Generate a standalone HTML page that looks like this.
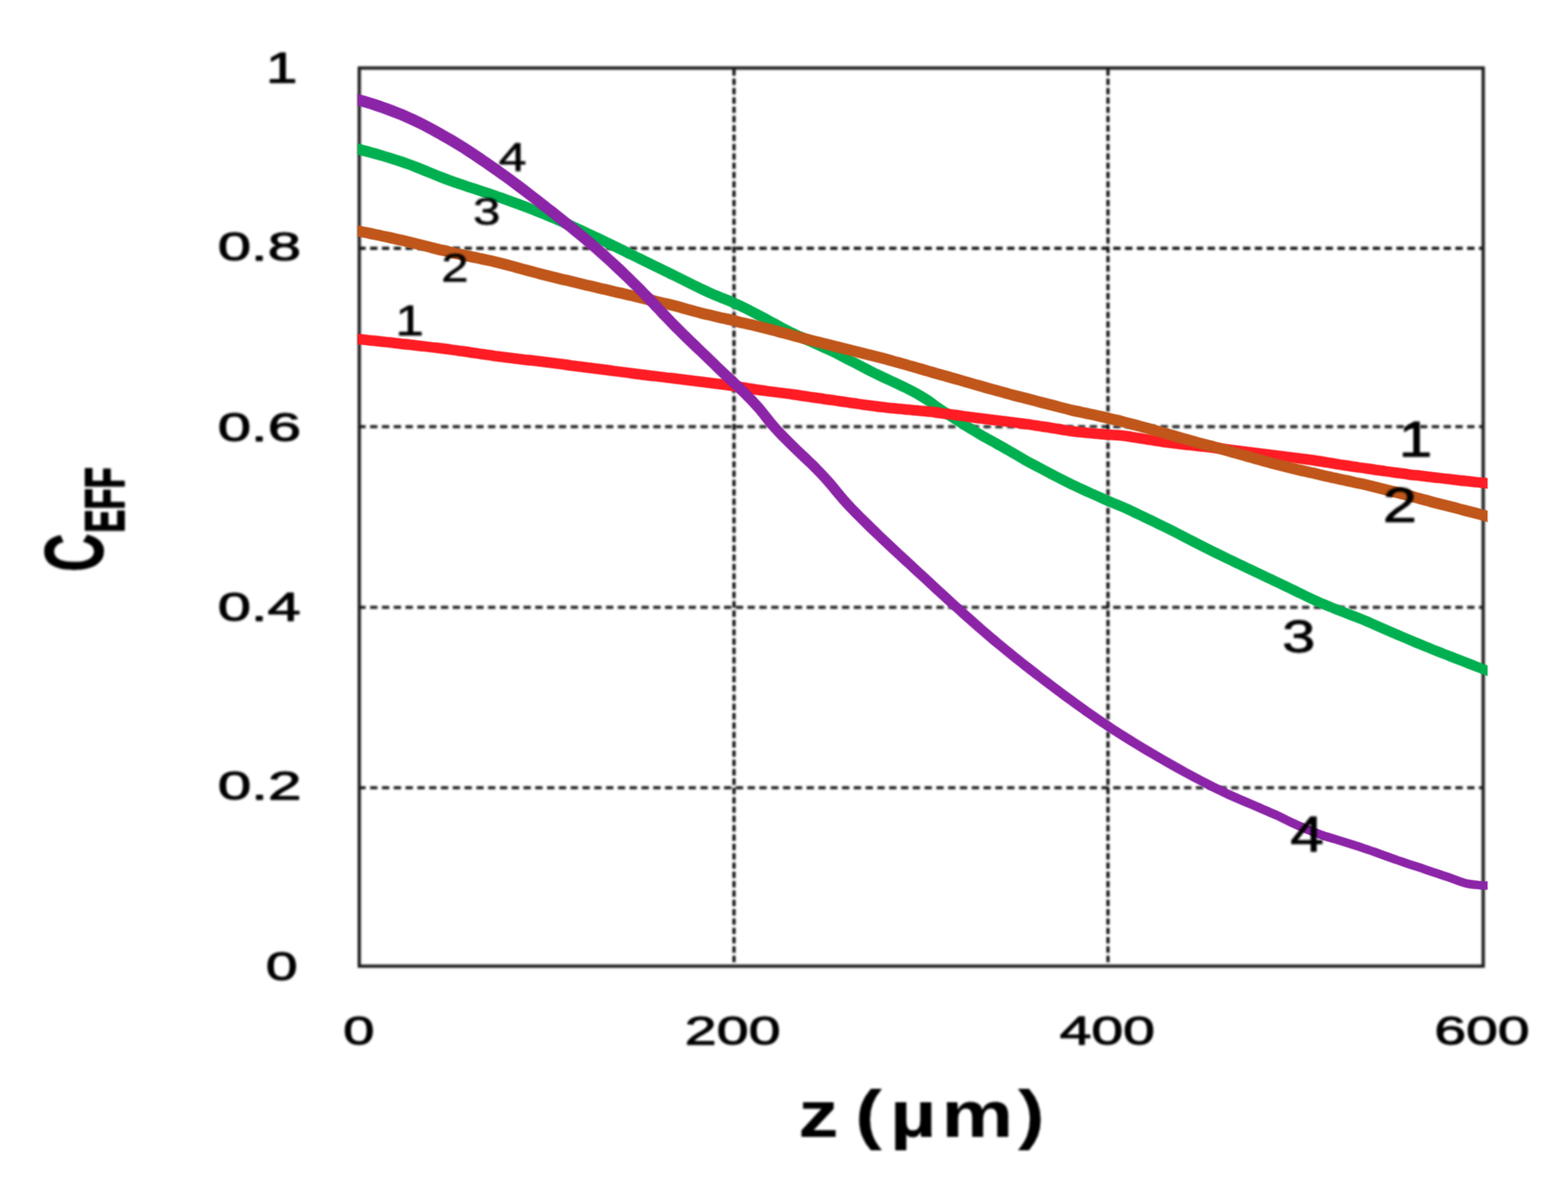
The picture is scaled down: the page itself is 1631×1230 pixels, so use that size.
<!DOCTYPE html>
<html lang="en">
<head>
<meta charset="utf-8">
<title>C_EFF vs z</title>
<style>
html,body{margin:0;padding:0;background:#fff;}
body{width:1631px;height:1230px;overflow:hidden;font-family:"Liberation Sans",sans-serif;}
svg{display:block;}
.soft{filter:blur(0.9px);}
</style>
</head>
<body>
<svg xmlns="http://www.w3.org/2000/svg" width="1631" height="1230" viewBox="0 0 1631 1230">
<defs><clipPath id="cc"><rect x="371.9" y="0" width="1175.5" height="1230"/></clipPath></defs>
<rect x="0" y="0" width="1631" height="1230" fill="#ffffff"/>
<g class="soft">
<g stroke="#101010" stroke-width="3.1" stroke-dasharray="7.6 4.67" stroke-dashoffset="0.95" fill="none">
<line x1="373.7" y1="258.4" x2="1542.8" y2="258.4"/>
<line x1="373.7" y1="444.0" x2="1542.8" y2="444.0"/>
<line x1="373.7" y1="632.0" x2="1542.8" y2="632.0"/>
<line x1="373.7" y1="819.7" x2="1542.8" y2="819.7"/>
<line x1="763.5" y1="70.8" x2="763.5" y2="1005.4" stroke-width="3.3" stroke-dasharray="6.7 3.01" stroke-dashoffset="8.45"/>
<line x1="1152.5" y1="70.8" x2="1152.5" y2="1005.4" stroke-width="3.3" stroke-dasharray="6.7 3.01" stroke-dashoffset="8.45"/>
</g>
<rect x="373.7" y="70.8" width="1169.1" height="934.6" fill="none" stroke="#1c1c1c" stroke-width="3.4"/>
</g>
<g clip-path="url(#cc)" stroke-width="1.5" stroke-opacity="0.5" stroke-linejoin="round">
<path d="M367.2,148.6 L371.2,149.6 L375.3,150.6 L379.3,151.6 L383.3,152.6 L387.4,153.7 L391.4,154.8 L395.4,156.0 L399.5,157.2 L403.5,158.4 L407.5,159.6 L411.6,160.9 L415.6,162.2 L419.6,163.5 L423.7,164.9 L427.8,166.4 L431.9,167.9 L435.9,169.5 L439.9,171.1 L444.0,172.8 L448.0,174.4 L452.0,176.1 L455.9,177.7 L459.9,179.3 L463.9,180.8 L467.8,182.3 L471.7,183.7 L475.7,185.1 L479.7,186.5 L483.6,187.8 L487.6,189.2 L491.6,190.5 L495.6,191.8 L499.6,193.1 L503.6,194.4 L507.6,195.7 L511.7,197.1 L515.7,198.5 L519.7,199.9 L523.7,201.3 L527.7,202.8 L531.8,204.2 L535.8,205.7 L539.8,207.1 L543.8,208.6 L547.8,210.1 L551.8,211.7 L555.9,213.2 L559.9,214.8 L563.9,216.4 L567.9,218.0 L572.0,219.7 L576.0,221.4 L580.0,223.1 L584.1,224.9 L588.1,226.7 L592.1,228.5 L596.1,230.3 L600.1,232.1 L604.2,234.0 L608.2,235.8 L612.2,237.7 L616.2,239.6 L620.2,241.4 L624.2,243.3 L628.2,245.2 L632.2,247.2 L636.2,249.1 L640.3,251.1 L644.3,253.0 L648.3,255.0 L652.3,257.0 L656.3,259.0 L660.3,260.9 L664.2,262.9 L668.2,264.8 L672.2,266.8 L676.2,268.7 L680.2,270.7 L684.2,272.7 L688.2,274.6 L692.2,276.6 L696.2,278.5 L700.2,280.5 L704.2,282.4 L708.3,284.4 L712.3,286.4 L716.3,288.4 L720.3,290.4 L724.3,292.4 L728.2,294.3 L732.2,296.3 L736.2,298.1 L740.1,299.9 L744.0,301.7 L747.9,303.3 L751.9,304.9 L755.9,306.5 L760.0,308.1 L764.0,309.9 L768.1,311.7 L772.2,313.6 L776.2,315.6 L780.3,317.6 L784.3,319.7 L788.4,321.8 L792.4,323.9 L796.4,326.0 L800.4,328.2 L804.4,330.4 L808.4,332.5 L812.4,334.7 L816.4,336.9 L820.4,339.0 L824.2,341.0 L828.2,342.8 L832.1,344.7 L836.1,346.5 L840.1,348.4 L844.1,350.2 L848.1,352.0 L852.1,353.8 L856.1,355.7 L860.1,357.5 L864.1,359.3 L868.2,361.1 L872.3,363.1 L876.4,365.3 L880.4,367.4 L884.4,369.5 L888.3,371.6 L892.3,373.7 L896.3,375.7 L900.3,377.8 L904.3,379.8 L908.3,381.9 L912.2,383.9 L916.2,385.8 L920.2,387.7 L924.1,389.5 L928.1,391.4 L932.1,393.3 L936.2,395.2 L940.2,397.1 L944.2,399.1 L948.3,401.1 L952.4,403.2 L956.5,405.4 L960.6,407.8 L964.7,410.3 L968.9,413.0 L973.0,416.0 L976.9,418.9 L980.9,421.7 L984.8,424.3 L988.8,426.9 L992.7,429.5 L996.7,432.1 L1000.7,434.6 L1004.7,437.1 L1008.7,439.6 L1012.7,442.1 L1016.6,444.6 L1020.6,447.0 L1024.5,449.2 L1028.4,451.4 L1032.4,453.6 L1036.4,455.8 L1040.5,458.1 L1044.5,460.3 L1048.5,462.6 L1052.5,464.9 L1056.5,467.2 L1060.5,469.6 L1064.6,471.9 L1068.5,474.3 L1072.4,476.5 L1076.3,478.5 L1080.3,480.6 L1084.3,482.7 L1088.3,484.9 L1092.3,487.0 L1096.3,489.1 L1100.3,491.2 L1104.3,493.2 L1108.3,495.2 L1112.2,497.2 L1116.2,499.2 L1120.2,501.1 L1124.1,503.0 L1128.1,504.8 L1132.1,506.6 L1136.0,508.4 L1140.0,510.2 L1144.0,512.0 L1148.0,513.7 L1152.0,515.5 L1156.0,517.2 L1159.9,518.9 L1163.9,520.5 L1167.9,522.2 L1172.0,523.9 L1176.1,525.8 L1180.1,527.7 L1184.1,529.6 L1188.1,531.6 L1192.2,533.5 L1196.2,535.4 L1200.2,537.3 L1204.2,539.3 L1208.2,541.2 L1212.2,543.2 L1216.2,545.1 L1220.2,547.1 L1224.3,549.2 L1228.3,551.3 L1232.3,553.3 L1236.3,555.4 L1240.3,557.5 L1244.3,559.5 L1248.3,561.6 L1252.2,563.6 L1256.2,565.6 L1260.2,567.6 L1264.2,569.6 L1268.2,571.5 L1272.2,573.5 L1276.2,575.4 L1280.2,577.4 L1284.2,579.3 L1288.1,581.2 L1292.1,583.1 L1296.1,585.0 L1300.1,586.9 L1304.1,588.8 L1308.1,590.7 L1312.1,592.6 L1316.1,594.5 L1320.1,596.4 L1324.1,598.3 L1328.1,600.2 L1332.1,602.1 L1336.1,604.0 L1340.2,606.0 L1344.2,607.9 L1348.2,609.8 L1352.2,611.8 L1356.2,613.7 L1360.1,615.7 L1364.1,617.6 L1368.1,619.5 L1372.0,621.3 L1375.9,623.0 L1379.9,624.6 L1383.9,626.3 L1387.8,627.9 L1391.8,629.5 L1395.8,631.1 L1399.8,632.6 L1403.8,634.2 L1407.8,635.7 L1411.8,637.3 L1415.8,638.8 L1419.8,640.4 L1424.0,642.1 L1428.0,643.9 L1432.0,645.7 L1436.0,647.5 L1440.0,649.2 L1444.0,651.0 L1448.0,652.7 L1452.0,654.4 L1455.9,656.1 L1459.9,657.9 L1463.9,659.6 L1467.9,661.3 L1471.9,662.9 L1475.9,664.6 L1479.9,666.3 L1483.9,667.9 L1487.9,669.5 L1491.8,671.2 L1495.8,672.8 L1499.8,674.3 L1503.8,675.9 L1507.8,677.5 L1511.8,679.0 L1515.8,680.6 L1519.8,682.1 L1523.8,683.7 L1527.8,685.3 L1531.8,686.8 L1535.8,688.4 L1539.8,689.9 L1543.7,691.4 L1547.6,692.9 L1551.5,694.2 L1555.5,695.5 L1552.5,704.8 L1548.5,703.5 L1544.4,702.1 L1540.3,700.6 L1536.2,699.1 L1532.2,697.5 L1528.2,696.0 L1524.2,694.4 L1520.2,692.8 L1516.2,691.2 L1512.2,689.7 L1508.2,688.2 L1504.2,686.6 L1500.2,685.1 L1496.2,683.5 L1492.2,681.9 L1488.2,680.3 L1484.1,678.6 L1480.1,677.0 L1476.1,675.3 L1472.1,673.7 L1468.1,672.0 L1464.1,670.3 L1460.1,668.6 L1456.1,666.9 L1452.1,665.2 L1448.0,663.5 L1444.0,661.7 L1440.0,660.0 L1436.0,658.2 L1432.0,656.5 L1428.0,654.7 L1424.0,652.9 L1420.0,651.2 L1416.2,649.5 L1412.2,648.0 L1408.2,646.5 L1404.2,645.0 L1400.2,643.4 L1396.2,641.8 L1392.2,640.3 L1388.2,638.7 L1384.2,637.0 L1380.1,635.4 L1376.1,633.8 L1372.1,632.1 L1368.0,630.3 L1363.9,628.4 L1359.9,626.5 L1355.9,624.6 L1351.8,622.6 L1347.8,620.7 L1343.8,618.8 L1339.8,616.8 L1335.8,614.9 L1331.9,613.0 L1327.9,611.1 L1323.9,609.2 L1319.9,607.3 L1315.9,605.4 L1311.9,603.5 L1307.9,601.6 L1303.9,599.7 L1299.9,597.8 L1295.9,595.9 L1291.9,594.0 L1287.9,592.1 L1283.9,590.2 L1279.8,588.2 L1275.8,586.3 L1271.8,584.4 L1267.8,582.4 L1263.8,580.5 L1259.8,578.5 L1255.8,576.5 L1251.8,574.5 L1247.8,572.5 L1243.7,570.4 L1239.7,568.4 L1235.7,566.3 L1231.7,564.3 L1227.7,562.2 L1223.7,560.1 L1219.7,558.1 L1215.8,556.0 L1211.8,554.1 L1207.8,552.1 L1203.8,550.2 L1199.8,548.2 L1195.8,546.3 L1191.8,544.4 L1187.8,542.5 L1183.9,540.6 L1179.9,538.7 L1175.9,536.8 L1171.9,534.9 L1168.0,533.0 L1164.1,531.4 L1160.1,529.8 L1156.1,528.1 L1152.0,526.4 L1148.0,524.7 L1144.0,522.9 L1140.0,521.1 L1136.0,519.3 L1132.0,517.6 L1127.9,515.7 L1123.9,513.9 L1119.9,512.0 L1115.8,510.1 L1111.8,508.2 L1107.8,506.2 L1103.7,504.2 L1099.7,502.1 L1095.7,500.1 L1091.7,498.0 L1087.7,495.8 L1083.7,493.7 L1079.7,491.6 L1075.7,489.5 L1071.7,487.4 L1067.6,485.3 L1063.5,483.0 L1059.4,480.6 L1055.5,478.2 L1051.5,475.9 L1047.5,473.6 L1043.5,471.4 L1039.5,469.1 L1035.5,466.9 L1031.6,464.6 L1027.6,462.4 L1023.6,460.2 L1019.5,458.0 L1015.4,455.6 L1011.4,453.1 L1007.3,450.7 L1003.3,448.2 L999.3,445.7 L995.3,443.1 L991.3,440.6 L987.3,438.0 L983.2,435.4 L979.2,432.7 L975.1,430.0 L971.1,427.1 L967.0,424.2 L963.1,421.3 L959.3,418.9 L955.4,416.5 L951.5,414.2 L947.6,412.1 L943.7,410.1 L939.8,408.1 L935.8,406.2 L931.8,404.3 L927.9,402.4 L923.9,400.6 L919.9,398.7 L915.8,396.9 L911.8,394.9 L907.8,392.9 L903.7,390.9 L899.7,388.9 L895.7,386.8 L891.7,384.7 L887.7,382.6 L883.7,380.6 L879.6,378.5 L875.6,376.4 L871.6,374.3 L867.7,372.2 L863.8,370.3 L859.9,368.5 L855.9,366.7 L851.9,364.9 L847.9,363.1 L843.9,361.3 L839.9,359.4 L835.9,357.6 L831.9,355.8 L827.9,353.9 L823.8,352.0 L819.8,350.1 L815.6,348.0 L811.6,345.8 L807.6,343.7 L803.6,341.5 L799.6,339.3 L795.6,337.1 L791.6,335.0 L787.6,332.9 L783.6,330.8 L779.7,328.7 L775.7,326.7 L771.8,324.7 L767.8,322.8 L763.9,321.0 L760.0,319.2 L756.0,317.5 L752.1,316.0 L748.1,314.4 L744.1,312.8 L740.0,311.1 L735.9,309.3 L731.8,307.4 L727.8,305.5 L723.8,303.5 L719.7,301.5 L715.7,299.5 L711.7,297.5 L707.7,295.5 L703.7,293.6 L699.8,291.6 L695.8,289.7 L691.8,287.7 L687.8,285.8 L683.8,283.8 L679.8,281.9 L675.8,279.9 L671.8,277.9 L667.8,276.0 L663.8,274.0 L659.8,272.1 L655.7,270.1 L651.7,268.2 L647.7,266.2 L643.7,264.2 L639.7,262.2 L635.7,260.3 L631.8,258.3 L627.8,256.4 L623.8,254.5 L619.8,252.6 L615.8,250.7 L611.8,248.9 L607.8,247.0 L603.8,245.1 L599.8,243.3 L595.9,241.5 L591.9,239.6 L587.9,237.8 L583.9,236.1 L579.9,234.3 L576.0,232.6 L572.0,230.9 L568.0,229.2 L564.1,227.6 L560.1,226.0 L556.1,224.4 L552.1,222.8 L548.2,221.3 L544.2,219.8 L540.2,218.3 L536.2,216.8 L532.2,215.4 L528.2,213.9 L524.3,212.5 L520.3,211.0 L516.3,209.6 L512.3,208.2 L508.3,206.9 L504.4,205.5 L500.4,204.2 L496.4,202.9 L492.4,201.6 L488.4,200.3 L484.4,199.0 L480.4,197.6 L476.3,196.3 L472.3,194.9 L468.3,193.5 L464.2,192.0 L460.1,190.5 L456.1,188.9 L452.1,187.3 L448.0,185.6 L444.0,184.0 L440.0,182.4 L436.1,180.7 L432.1,179.2 L428.1,177.6 L424.2,176.1 L420.3,174.7 L416.4,173.4 L412.4,172.1 L408.4,170.8 L404.5,169.6 L400.5,168.3 L396.5,167.1 L392.6,166.0 L388.6,164.9 L384.6,163.8 L380.7,162.7 L376.7,161.7 L372.7,160.7 L368.8,159.7 L364.8,158.7 Z" fill="#00b050" stroke="#00b050"/>
<path d="M366.5,347.1 L370.5,347.5 L374.5,347.9 L378.5,348.3 L382.5,348.8 L386.5,349.2 L390.5,349.6 L394.5,350.0 L398.6,350.5 L402.6,350.9 L406.6,351.3 L410.6,351.8 L414.6,352.2 L418.6,352.7 L422.6,353.1 L426.6,353.6 L430.6,354.0 L434.6,354.5 L438.6,354.9 L442.6,355.4 L446.6,355.9 L450.6,356.4 L454.6,356.8 L458.6,357.3 L462.6,357.8 L466.7,358.3 L470.7,358.9 L474.7,359.4 L478.7,360.0 L482.7,360.5 L486.7,361.1 L490.8,361.7 L494.8,362.3 L498.8,362.9 L502.7,363.5 L506.7,364.1 L510.7,364.6 L514.7,365.2 L518.7,365.7 L522.7,366.2 L526.6,366.7 L530.6,367.2 L534.6,367.7 L538.6,368.2 L542.6,368.7 L546.6,369.2 L550.6,369.6 L554.6,370.1 L558.6,370.6 L562.6,371.1 L566.6,371.6 L570.6,372.1 L574.6,372.6 L578.6,373.1 L582.7,373.6 L586.7,374.1 L590.7,374.6 L594.7,375.2 L598.7,375.7 L602.7,376.2 L606.7,376.7 L610.7,377.2 L614.7,377.7 L618.7,378.3 L622.7,378.8 L626.7,379.3 L630.7,379.8 L634.7,380.3 L638.7,380.9 L642.7,381.4 L646.7,381.9 L650.7,382.4 L654.7,382.9 L658.7,383.4 L662.6,383.9 L666.6,384.4 L670.6,384.9 L674.6,385.4 L678.6,385.9 L682.6,386.4 L686.6,386.9 L690.6,387.4 L694.6,387.9 L698.6,388.3 L702.6,388.8 L706.6,389.3 L710.6,389.8 L714.6,390.3 L718.6,390.8 L722.6,391.3 L726.6,391.7 L730.6,392.2 L734.6,392.8 L738.7,393.3 L742.7,393.8 L746.7,394.3 L750.7,394.8 L754.7,395.4 L758.7,395.9 L762.7,396.5 L766.7,397.1 L770.8,397.7 L774.8,398.3 L778.8,398.9 L782.8,399.5 L786.8,400.2 L790.7,400.8 L794.7,401.3 L798.7,401.9 L802.7,402.4 L806.7,402.9 L810.6,403.4 L814.6,403.9 L818.7,404.4 L822.7,405.0 L826.8,405.6 L830.7,406.1 L834.7,406.7 L838.7,407.3 L842.7,407.9 L846.7,408.5 L850.7,409.0 L854.7,409.6 L858.7,410.2 L862.7,410.7 L866.7,411.3 L870.7,411.9 L874.7,412.5 L878.8,413.1 L882.8,413.7 L886.8,414.3 L890.8,414.8 L894.7,415.4 L898.7,416.0 L902.7,416.6 L906.7,417.1 L910.7,417.6 L914.6,418.1 L918.6,418.6 L922.5,419.0 L926.5,419.4 L930.5,419.8 L934.5,420.2 L938.5,420.6 L942.5,420.9 L946.5,421.3 L950.5,421.7 L954.5,422.0 L958.5,422.4 L962.5,422.8 L966.5,423.2 L970.6,423.6 L974.7,424.1 L978.7,424.7 L982.7,425.2 L986.7,425.7 L990.7,426.3 L994.7,426.8 L998.7,427.3 L1002.7,427.9 L1006.7,428.4 L1010.7,428.9 L1014.7,429.5 L1018.7,430.0 L1022.6,430.5 L1026.6,431.0 L1030.6,431.5 L1034.6,431.9 L1038.6,432.4 L1042.6,432.9 L1046.6,433.4 L1050.6,433.9 L1054.7,434.4 L1058.7,434.9 L1062.7,435.5 L1066.7,436.0 L1070.7,436.6 L1074.7,437.2 L1078.8,437.8 L1082.8,438.4 L1086.8,439.0 L1090.8,439.6 L1094.8,440.3 L1098.8,440.9 L1102.8,441.6 L1106.8,442.2 L1110.8,442.9 L1114.8,443.5 L1118.6,444.1 L1122.5,444.5 L1126.5,444.8 L1130.5,445.2 L1134.5,445.6 L1138.4,445.9 L1142.4,446.3 L1146.4,446.6 L1150.4,446.9 L1154.4,447.2 L1158.3,447.5 L1162.3,447.7 L1166.4,448.0 L1170.7,448.4 L1174.8,449.1 L1178.8,449.8 L1182.8,450.4 L1186.8,451.0 L1190.8,451.7 L1194.8,452.3 L1198.8,452.9 L1202.8,453.5 L1206.8,454.1 L1210.8,454.7 L1214.8,455.3 L1218.7,455.9 L1222.6,456.4 L1226.6,456.8 L1230.6,457.2 L1234.6,457.7 L1238.6,458.1 L1242.6,458.5 L1246.6,459.0 L1250.6,459.4 L1254.6,459.9 L1258.6,460.4 L1262.6,460.9 L1266.6,461.3 L1270.6,461.8 L1274.6,462.3 L1278.6,462.8 L1282.6,463.3 L1286.6,463.8 L1290.6,464.3 L1294.6,464.8 L1298.6,465.3 L1302.6,465.8 L1306.6,466.3 L1310.6,466.8 L1314.6,467.3 L1318.6,467.8 L1322.6,468.3 L1326.6,468.8 L1330.6,469.3 L1334.6,469.8 L1338.6,470.3 L1342.6,470.8 L1346.6,471.3 L1350.6,471.8 L1354.6,472.3 L1358.6,472.8 L1362.6,473.3 L1366.7,473.8 L1370.8,474.5 L1374.8,475.1 L1378.8,475.8 L1382.8,476.4 L1386.8,477.1 L1390.8,477.7 L1394.8,478.4 L1398.8,479.0 L1402.8,479.6 L1406.7,480.2 L1410.7,480.8 L1414.7,481.4 L1418.7,481.9 L1422.7,482.5 L1426.7,483.1 L1430.7,483.7 L1434.7,484.2 L1438.7,484.8 L1442.7,485.4 L1446.7,485.9 L1450.7,486.5 L1454.7,487.0 L1458.7,487.6 L1462.7,488.1 L1466.7,488.7 L1470.6,489.2 L1474.6,489.6 L1478.6,490.1 L1482.6,490.6 L1486.6,491.0 L1490.6,491.5 L1494.6,491.9 L1498.6,492.4 L1502.6,492.9 L1506.6,493.3 L1510.6,493.8 L1514.6,494.2 L1518.6,494.7 L1522.6,495.1 L1526.6,495.6 L1530.6,496.0 L1534.6,496.5 L1538.6,496.9 L1542.6,497.3 L1546.6,497.8 L1550.6,498.2 L1554.6,498.6 L1553.4,508.9 L1549.4,508.4 L1545.4,508.0 L1541.4,507.6 L1537.4,507.1 L1533.4,506.7 L1529.4,506.2 L1525.4,505.8 L1521.4,505.4 L1517.4,504.9 L1513.4,504.5 L1509.4,504.0 L1505.4,503.5 L1501.4,503.1 L1497.4,502.6 L1493.4,502.2 L1489.4,501.7 L1485.4,501.3 L1481.4,500.8 L1477.4,500.3 L1473.4,499.8 L1469.4,499.4 L1465.3,498.9 L1461.3,498.3 L1457.3,497.8 L1453.3,497.2 L1449.3,496.7 L1445.3,496.1 L1441.3,495.6 L1437.3,495.0 L1433.3,494.4 L1429.3,493.9 L1425.3,493.3 L1421.3,492.7 L1417.3,492.1 L1413.3,491.6 L1409.3,491.0 L1405.3,490.4 L1401.2,489.8 L1397.2,489.2 L1393.2,488.6 L1389.2,487.9 L1385.2,487.3 L1381.2,486.6 L1377.2,486.0 L1373.2,485.3 L1369.2,484.7 L1365.3,484.0 L1361.4,483.5 L1357.4,483.0 L1353.4,482.5 L1349.4,482.0 L1345.4,481.5 L1341.4,481.0 L1337.4,480.5 L1333.4,480.0 L1329.4,479.5 L1325.4,479.0 L1321.4,478.5 L1317.4,478.0 L1313.4,477.5 L1309.4,477.0 L1305.4,476.5 L1301.4,476.0 L1297.4,475.5 L1293.4,475.0 L1289.4,474.5 L1285.4,474.0 L1281.4,473.5 L1277.4,473.0 L1273.4,472.5 L1269.4,472.0 L1265.4,471.6 L1261.4,471.1 L1257.4,470.6 L1253.4,470.1 L1249.4,469.7 L1245.4,469.2 L1241.4,468.8 L1237.4,468.3 L1233.4,467.9 L1229.4,467.5 L1225.4,467.0 L1221.4,466.6 L1217.3,466.1 L1213.2,465.5 L1209.2,464.9 L1205.2,464.3 L1201.2,463.7 L1197.2,463.1 L1193.2,462.5 L1189.2,461.8 L1185.2,461.2 L1181.2,460.6 L1177.2,459.9 L1173.2,459.3 L1169.3,458.7 L1165.6,458.2 L1161.7,458.0 L1157.7,457.7 L1153.6,457.5 L1149.6,457.2 L1145.6,456.9 L1141.6,456.5 L1137.6,456.2 L1133.5,455.8 L1129.5,455.5 L1125.5,455.1 L1121.5,454.7 L1117.4,454.3 L1113.2,453.7 L1109.2,453.0 L1105.2,452.4 L1101.2,451.7 L1097.2,451.1 L1093.2,450.4 L1089.2,449.8 L1085.2,449.2 L1081.2,448.5 L1077.2,447.9 L1073.3,447.3 L1069.3,446.8 L1065.3,446.2 L1061.3,445.7 L1057.3,445.1 L1053.3,444.6 L1049.4,444.1 L1045.4,443.6 L1041.4,443.1 L1037.4,442.6 L1033.4,442.2 L1029.4,441.7 L1025.4,441.2 L1021.4,440.8 L1017.3,440.3 L1013.3,439.7 L1009.3,439.2 L1005.3,438.6 L1001.3,438.1 L997.3,437.5 L993.3,437.0 L989.3,436.5 L985.3,435.9 L981.3,435.4 L977.3,434.9 L973.3,434.4 L969.4,433.8 L965.5,433.4 L961.5,433.0 L957.5,432.7 L953.5,432.3 L949.5,431.9 L945.5,431.6 L941.5,431.2 L937.5,430.8 L933.5,430.5 L929.5,430.1 L925.5,429.7 L921.5,429.3 L917.4,428.8 L913.4,428.4 L909.3,427.8 L905.3,427.3 L901.3,426.8 L897.3,426.2 L893.3,425.6 L889.2,425.0 L885.2,424.4 L881.2,423.8 L877.2,423.3 L873.3,422.7 L869.3,422.1 L865.3,421.5 L861.3,420.9 L857.3,420.4 L853.3,419.8 L849.3,419.2 L845.3,418.7 L841.3,418.1 L837.3,417.5 L833.3,416.9 L829.3,416.3 L825.2,415.7 L821.3,415.1 L817.3,414.6 L813.4,414.1 L809.4,413.6 L805.3,413.1 L801.3,412.6 L797.3,412.1 L793.3,411.6 L789.3,411.0 L785.2,410.4 L781.2,409.7 L777.2,409.1 L773.2,408.5 L769.2,407.8 L765.3,407.3 L761.3,406.7 L757.3,406.1 L753.3,405.6 L749.3,405.0 L745.3,404.5 L741.3,404.0 L737.3,403.5 L733.4,403.0 L729.4,402.5 L725.4,402.0 L721.4,401.5 L717.4,401.0 L713.4,400.5 L709.4,400.0 L705.4,399.5 L701.4,399.0 L697.4,398.6 L693.4,398.1 L689.4,397.6 L685.4,397.1 L681.4,396.6 L677.4,396.2 L673.4,395.7 L669.4,395.2 L665.4,394.7 L661.4,394.2 L657.3,393.7 L653.3,393.1 L649.3,392.6 L645.3,392.1 L641.3,391.6 L637.3,391.1 L633.3,390.6 L629.3,390.0 L625.3,389.5 L621.3,389.0 L617.3,388.5 L613.3,388.0 L609.3,387.4 L605.3,386.9 L601.3,386.4 L597.3,385.9 L593.3,385.4 L589.3,384.9 L585.3,384.3 L581.3,383.8 L577.4,383.3 L573.4,382.8 L569.4,382.3 L565.4,381.8 L561.4,381.3 L557.4,380.8 L553.4,380.3 L549.4,379.9 L545.4,379.4 L541.4,378.9 L537.4,378.4 L533.4,378.0 L529.4,377.5 L525.4,377.0 L521.3,376.5 L517.3,375.9 L513.3,375.4 L509.3,374.8 L505.3,374.3 L501.3,373.7 L497.2,373.1 L493.2,372.5 L489.2,371.9 L485.3,371.3 L481.3,370.7 L477.3,370.2 L473.3,369.6 L469.3,369.1 L465.3,368.6 L461.4,368.0 L457.4,367.5 L453.4,367.1 L449.4,366.6 L445.4,366.1 L441.4,365.6 L437.4,365.2 L433.4,364.7 L429.4,364.3 L425.4,363.8 L421.4,363.4 L417.4,362.9 L413.4,362.5 L409.4,362.0 L405.4,361.6 L401.4,361.1 L397.4,360.7 L393.5,360.3 L389.5,359.8 L385.5,359.4 L381.5,359.0 L377.5,358.6 L373.5,358.2 L369.5,357.8 L365.5,357.4 Z" fill="#ff1c24" stroke="#ff1c24"/>
<path d="M367.0,233.8 L371.0,234.6 L375.1,235.4 L379.1,236.2 L383.1,237.0 L387.1,237.8 L391.1,238.7 L395.1,239.5 L399.1,240.4 L403.1,241.2 L407.2,242.1 L411.2,243.0 L415.2,243.9 L419.2,244.8 L423.2,245.7 L427.3,246.7 L431.3,247.7 L435.3,248.7 L439.3,249.7 L443.3,250.7 L447.3,251.7 L451.3,252.7 L455.3,253.7 L459.3,254.7 L463.3,255.6 L467.2,256.6 L471.2,257.5 L475.2,258.4 L479.1,259.3 L483.1,260.1 L487.1,260.9 L491.1,261.8 L495.1,262.6 L499.1,263.5 L503.1,264.3 L507.2,265.2 L511.2,266.1 L515.2,267.0 L519.3,268.0 L523.3,269.0 L527.4,270.0 L531.4,271.1 L535.4,272.2 L539.4,273.3 L543.4,274.4 L547.4,275.5 L551.4,276.5 L555.4,277.6 L559.4,278.7 L563.4,279.7 L567.3,280.8 L571.3,281.8 L575.3,282.8 L579.3,283.7 L583.3,284.7 L587.3,285.7 L591.3,286.6 L595.3,287.6 L599.2,288.5 L603.2,289.5 L607.2,290.4 L611.2,291.4 L615.2,292.3 L619.2,293.3 L623.2,294.2 L627.2,295.2 L631.2,296.1 L635.2,297.0 L639.2,298.0 L643.2,298.9 L647.2,299.8 L651.2,300.8 L655.2,301.7 L659.2,302.6 L663.2,303.6 L667.2,304.5 L671.2,305.5 L675.2,306.4 L679.2,307.3 L683.2,308.3 L687.2,309.2 L691.3,310.2 L695.3,311.1 L699.3,312.1 L703.3,313.1 L707.4,314.1 L711.4,315.2 L715.5,316.4 L719.5,317.5 L723.4,318.6 L727.4,319.7 L731.3,320.7 L735.3,321.7 L739.2,322.6 L743.2,323.6 L747.2,324.5 L751.2,325.4 L755.2,326.2 L759.2,327.1 L763.3,328.1 L767.4,329.1 L771.3,330.2 L775.2,331.0 L779.2,331.9 L783.2,332.8 L787.3,333.8 L791.3,334.8 L795.3,335.8 L799.3,336.8 L803.4,337.8 L807.4,338.9 L811.4,339.9 L815.4,341.0 L819.4,342.1 L823.4,343.1 L827.4,344.2 L831.4,345.3 L835.4,346.4 L839.4,347.5 L843.4,348.5 L847.4,349.6 L851.3,350.6 L855.3,351.6 L859.3,352.6 L863.3,353.6 L867.3,354.6 L871.3,355.6 L875.3,356.6 L879.3,357.6 L883.3,358.6 L887.3,359.6 L891.3,360.5 L895.3,361.5 L899.3,362.5 L903.3,363.5 L907.3,364.5 L911.3,365.5 L915.3,366.5 L919.4,367.5 L923.4,368.6 L927.4,369.7 L931.4,370.9 L935.5,372.0 L939.5,373.1 L943.5,374.2 L947.5,375.4 L951.5,376.5 L955.5,377.7 L959.5,378.8 L963.5,380.0 L967.5,381.2 L971.5,382.3 L975.4,383.4 L979.5,384.6 L983.5,385.7 L987.5,386.8 L991.5,388.0 L995.5,389.1 L999.5,390.3 L1003.5,391.4 L1007.5,392.6 L1011.5,393.7 L1015.5,394.9 L1019.5,396.0 L1023.5,397.1 L1027.5,398.3 L1031.5,399.4 L1035.4,400.5 L1039.4,401.6 L1043.4,402.7 L1047.4,403.8 L1051.4,404.9 L1055.4,405.9 L1059.4,407.0 L1063.3,408.0 L1067.3,409.0 L1071.4,410.0 L1075.4,411.1 L1079.4,412.2 L1083.4,413.2 L1087.4,414.3 L1091.3,415.3 L1095.3,416.3 L1099.3,417.3 L1103.3,418.4 L1107.3,419.4 L1111.3,420.4 L1115.3,421.4 L1119.2,422.3 L1123.1,423.1 L1127.1,424.0 L1131.1,424.8 L1135.1,425.7 L1139.2,426.6 L1143.2,427.4 L1147.2,428.3 L1151.2,429.3 L1155.2,430.2 L1159.3,431.2 L1163.3,432.1 L1167.3,433.1 L1171.3,434.2 L1175.4,435.2 L1179.4,436.3 L1183.4,437.3 L1187.4,438.4 L1191.4,439.5 L1195.5,440.6 L1199.5,441.8 L1203.5,442.9 L1207.5,444.0 L1211.5,445.2 L1215.5,446.3 L1219.5,447.5 L1223.5,448.6 L1227.5,449.8 L1231.5,450.9 L1235.5,452.0 L1239.5,453.2 L1243.4,454.3 L1247.4,455.4 L1251.4,456.5 L1255.4,457.5 L1259.4,458.6 L1263.4,459.6 L1267.4,460.7 L1271.5,461.8 L1275.5,463.0 L1279.5,464.1 L1283.5,465.3 L1287.5,466.4 L1291.5,467.6 L1295.5,468.7 L1299.5,469.8 L1303.5,470.9 L1307.5,472.1 L1311.4,473.2 L1315.4,474.3 L1319.4,475.4 L1323.4,476.4 L1327.3,477.4 L1331.3,478.5 L1335.3,479.5 L1339.3,480.5 L1343.3,481.5 L1347.3,482.4 L1351.3,483.4 L1355.2,484.3 L1359.2,485.3 L1363.2,486.2 L1367.2,487.1 L1371.2,488.0 L1375.2,489.0 L1379.2,489.9 L1383.2,490.8 L1387.2,491.7 L1391.2,492.5 L1395.1,493.4 L1399.1,494.3 L1403.1,495.1 L1407.1,496.0 L1411.1,496.9 L1415.1,497.7 L1419.2,498.6 L1423.3,499.5 L1427.3,500.5 L1431.3,501.5 L1435.3,502.5 L1439.3,503.5 L1443.3,504.5 L1447.3,505.5 L1451.4,506.5 L1455.4,507.6 L1459.4,508.6 L1463.4,509.7 L1467.4,510.7 L1471.4,511.8 L1475.4,512.9 L1479.4,514.0 L1483.4,515.1 L1487.4,516.1 L1491.4,517.2 L1495.3,518.3 L1499.3,519.3 L1503.3,520.3 L1507.3,521.3 L1511.3,522.3 L1515.3,523.3 L1519.3,524.4 L1523.4,525.4 L1527.4,526.4 L1531.4,527.5 L1535.4,528.5 L1539.4,529.6 L1543.4,530.7 L1547.4,531.7 L1551.4,532.8 L1555.4,533.8 L1552.6,544.3 L1548.6,543.2 L1544.6,542.2 L1540.6,541.1 L1536.6,540.0 L1532.6,539.0 L1528.6,537.9 L1524.6,536.9 L1520.6,535.9 L1516.7,534.8 L1512.7,533.8 L1508.7,532.8 L1504.7,531.8 L1500.7,530.7 L1496.7,529.7 L1492.7,528.7 L1488.6,527.7 L1484.6,526.6 L1480.6,525.5 L1476.6,524.4 L1472.6,523.3 L1468.6,522.2 L1464.6,521.2 L1460.6,520.1 L1456.6,519.1 L1452.6,518.0 L1448.6,517.0 L1444.7,516.0 L1440.7,515.0 L1436.7,514.0 L1432.7,513.0 L1428.7,512.0 L1424.7,511.0 L1420.7,510.1 L1416.8,509.1 L1412.9,508.3 L1408.9,507.4 L1404.9,506.6 L1400.9,505.7 L1396.9,504.8 L1392.9,504.0 L1388.8,503.1 L1384.8,502.2 L1380.8,501.3 L1376.8,500.4 L1372.8,499.5 L1368.8,498.6 L1364.8,497.6 L1360.8,496.7 L1356.8,495.8 L1352.8,494.9 L1348.7,493.9 L1344.7,492.9 L1340.7,491.9 L1336.7,490.9 L1332.7,489.9 L1328.7,488.9 L1324.7,487.9 L1320.6,486.9 L1316.6,485.8 L1312.6,484.7 L1308.6,483.6 L1304.5,482.5 L1300.5,481.3 L1296.5,480.2 L1292.5,479.1 L1288.5,477.9 L1284.5,476.8 L1280.5,475.7 L1276.5,474.5 L1272.5,473.4 L1268.5,472.2 L1264.6,471.1 L1260.6,470.1 L1256.6,469.0 L1252.6,468.0 L1248.6,466.9 L1244.6,465.8 L1240.6,464.7 L1236.5,463.6 L1232.5,462.4 L1228.5,461.3 L1224.5,460.2 L1220.5,459.0 L1216.5,457.9 L1212.5,456.7 L1208.5,455.6 L1204.5,454.4 L1200.5,453.3 L1196.5,452.2 L1192.5,451.0 L1188.6,449.9 L1184.6,448.8 L1180.6,447.8 L1176.6,446.7 L1172.6,445.6 L1168.7,444.6 L1164.7,443.6 L1160.7,442.6 L1156.7,441.7 L1152.8,440.7 L1148.8,439.8 L1144.8,438.9 L1140.8,438.0 L1136.8,437.1 L1132.9,436.2 L1128.9,435.4 L1124.9,434.6 L1120.9,433.7 L1116.8,432.9 L1112.7,431.9 L1108.7,430.8 L1104.7,429.8 L1100.7,428.8 L1096.7,427.8 L1092.7,426.8 L1088.7,425.8 L1084.6,424.7 L1080.6,423.7 L1076.6,422.6 L1072.6,421.6 L1068.6,420.5 L1064.7,419.5 L1060.7,418.4 L1056.6,417.4 L1052.6,416.4 L1048.6,415.3 L1044.6,414.2 L1040.6,413.1 L1036.6,412.0 L1032.6,410.9 L1028.5,409.8 L1024.5,408.7 L1020.5,407.5 L1016.5,406.4 L1012.5,405.2 L1008.5,404.1 L1004.5,402.9 L1000.5,401.8 L996.5,400.6 L992.5,399.5 L988.5,398.4 L984.5,397.2 L980.5,396.1 L976.5,395.0 L972.6,393.9 L968.5,392.7 L964.5,391.6 L960.5,390.4 L956.5,389.2 L952.5,388.1 L948.5,386.9 L944.5,385.8 L940.5,384.6 L936.5,383.5 L932.5,382.4 L928.6,381.3 L924.6,380.2 L920.6,379.0 L916.6,378.0 L912.7,377.0 L908.7,376.0 L904.7,375.0 L900.7,374.0 L896.7,373.0 L892.7,372.0 L888.7,371.0 L884.7,370.0 L880.7,369.1 L876.7,368.1 L872.7,367.1 L868.7,366.1 L864.7,365.1 L860.7,364.1 L856.7,363.1 L852.7,362.1 L848.7,361.1 L844.6,360.0 L840.6,359.0 L836.6,357.9 L832.6,356.8 L828.6,355.7 L824.6,354.7 L820.6,353.6 L816.6,352.5 L812.6,351.4 L808.6,350.4 L804.6,349.3 L800.6,348.3 L796.7,347.2 L792.7,346.2 L788.7,345.3 L784.7,344.3 L780.8,343.3 L776.8,342.4 L772.8,341.6 L768.7,340.7 L764.6,339.6 L760.7,338.6 L756.8,337.7 L752.8,336.8 L748.8,335.9 L744.8,335.0 L740.8,334.1 L736.8,333.1 L732.7,332.2 L728.7,331.2 L724.6,330.1 L720.6,329.0 L716.5,327.9 L712.5,326.8 L708.6,325.7 L704.6,324.6 L700.7,323.6 L696.7,322.6 L692.7,321.6 L688.7,320.7 L684.8,319.7 L680.8,318.8 L676.8,317.8 L672.8,316.9 L668.8,316.0 L664.8,315.0 L660.8,314.1 L656.8,313.1 L652.8,312.2 L648.8,311.3 L644.8,310.3 L640.8,309.4 L636.8,308.5 L632.8,307.5 L628.8,306.6 L624.8,305.7 L620.8,304.7 L616.8,303.8 L612.8,302.8 L608.8,301.9 L604.8,300.9 L600.8,300.0 L596.8,299.0 L592.7,298.1 L588.7,297.1 L584.7,296.2 L580.7,295.2 L576.7,294.2 L572.7,293.2 L568.7,292.2 L564.7,291.2 L560.6,290.2 L556.6,289.1 L552.6,288.1 L548.6,287.0 L544.6,285.9 L540.6,284.8 L536.6,283.7 L532.6,282.6 L528.6,281.5 L524.6,280.5 L520.7,279.5 L516.7,278.5 L512.8,277.5 L508.8,276.6 L504.8,275.8 L500.9,274.9 L496.9,274.0 L492.9,273.2 L488.9,272.4 L484.9,271.5 L480.9,270.7 L476.9,269.8 L472.8,268.9 L468.8,268.0 L464.8,267.1 L460.7,266.1 L456.7,265.2 L452.7,264.2 L448.7,263.2 L444.7,262.1 L440.7,261.1 L436.7,260.1 L432.7,259.1 L428.7,258.2 L424.7,257.2 L420.8,256.3 L416.8,255.3 L412.8,254.4 L408.8,253.5 L404.8,252.7 L400.9,251.8 L396.9,250.9 L392.9,250.1 L388.9,249.2 L384.9,248.4 L380.9,247.6 L376.9,246.8 L372.9,246.0 L369.0,245.2 L365.0,244.4 Z" fill="#c0561a" stroke="#c0561a"/>
<path d="M367.4,96.8 L371.4,97.9 L375.5,98.9 L379.5,100.0 L383.6,101.2 L387.7,102.5 L391.7,103.8 L395.8,105.1 L399.9,106.6 L403.9,108.0 L408.0,109.5 L412.0,111.1 L416.1,112.7 L420.1,114.3 L424.2,116.1 L428.3,117.9 L432.4,119.7 L436.4,121.7 L440.5,123.7 L444.5,125.8 L448.6,127.9 L452.6,130.1 L456.7,132.3 L460.7,134.6 L464.7,136.9 L468.8,139.2 L472.8,141.5 L476.8,143.9 L480.9,146.4 L484.9,149.0 L489.0,151.6 L493.0,154.2 L497.1,156.9 L501.1,159.6 L505.1,162.4 L509.1,165.1 L513.1,167.9 L517.1,170.7 L521.1,173.5 L525.2,176.4 L529.2,179.3 L533.2,182.2 L537.2,185.2 L541.3,188.2 L545.3,191.2 L549.3,194.3 L553.3,197.4 L557.3,200.5 L561.3,203.6 L565.3,206.7 L569.3,209.8 L573.3,213.0 L577.4,216.1 L581.4,219.3 L585.4,222.5 L589.4,225.7 L593.4,229.0 L597.4,232.2 L601.4,235.5 L605.4,238.9 L609.5,242.2 L613.5,245.6 L617.5,249.1 L621.5,252.5 L625.5,256.0 L629.6,259.6 L633.6,263.2 L637.6,266.9 L641.6,270.6 L645.7,274.3 L649.7,278.1 L653.7,282.0 L657.7,285.8 L661.7,289.7 L665.8,293.7 L669.8,297.8 L673.8,301.9 L677.9,306.1 L681.9,310.3 L685.9,314.6 L689.9,318.9 L693.9,323.1 L697.8,327.3 L701.8,331.4 L705.8,335.5 L709.7,339.4 L713.7,343.4 L717.7,347.3 L721.7,351.2 L725.7,355.0 L729.6,358.9 L733.6,362.7 L737.6,366.6 L741.6,370.4 L745.6,374.3 L749.6,378.2 L753.6,382.0 L757.6,385.8 L761.6,389.6 L765.6,393.3 L769.6,397.1 L773.6,400.9 L777.6,404.9 L781.7,408.9 L785.7,413.1 L789.8,417.4 L793.9,422.1 L798.0,427.2 L802.0,432.3 L806.0,437.2 L809.8,441.7 L813.7,446.0 L817.7,450.1 L821.6,454.1 L825.6,458.0 L829.5,461.9 L833.5,465.7 L837.5,469.5 L841.5,473.3 L845.5,477.2 L849.6,481.1 L853.6,485.2 L857.7,489.4 L861.7,493.7 L865.8,498.3 L869.9,503.1 L873.9,508.0 L877.8,512.8 L881.8,517.4 L885.7,521.7 L889.6,525.9 L893.6,530.0 L897.5,534.0 L901.5,537.9 L905.5,541.8 L909.5,545.8 L913.5,549.6 L917.4,553.5 L921.4,557.3 L925.4,561.1 L929.4,564.8 L933.4,568.5 L937.3,572.2 L941.3,575.9 L945.3,579.6 L949.3,583.3 L953.3,587.0 L957.3,590.7 L961.3,594.4 L965.3,598.1 L969.3,601.8 L973.3,605.6 L977.3,609.2 L981.3,612.9 L985.3,616.6 L989.3,620.3 L993.2,623.9 L997.2,627.5 L1001.2,631.1 L1005.2,634.7 L1009.2,638.3 L1013.2,641.8 L1017.2,645.4 L1021.2,648.9 L1025.1,652.4 L1029.1,655.8 L1033.1,659.2 L1037.1,662.6 L1041.0,665.9 L1045.0,669.2 L1049.0,672.5 L1053.0,675.7 L1057.0,679.0 L1061.0,682.2 L1064.9,685.4 L1068.9,688.5 L1072.9,691.6 L1076.9,694.7 L1080.9,697.8 L1084.8,700.9 L1088.8,703.9 L1092.8,706.9 L1096.8,710.0 L1100.8,713.0 L1104.8,716.0 L1108.8,719.0 L1112.8,721.9 L1116.7,724.8 L1120.7,727.8 L1124.7,730.7 L1128.7,733.5 L1132.7,736.4 L1136.6,739.2 L1140.6,741.9 L1144.6,744.7 L1148.6,747.4 L1152.5,750.1 L1156.5,752.7 L1160.5,755.4 L1164.5,757.9 L1168.4,760.5 L1172.4,763.0 L1176.4,765.5 L1180.4,768.0 L1184.4,770.4 L1188.3,772.8 L1192.3,775.2 L1196.3,777.6 L1200.3,780.0 L1204.3,782.3 L1208.2,784.6 L1212.2,786.9 L1216.2,789.2 L1220.2,791.5 L1224.2,793.7 L1228.2,796.0 L1232.1,798.2 L1236.1,800.4 L1240.1,802.6 L1244.1,804.7 L1248.1,806.8 L1252.0,808.9 L1256.0,811.0 L1260.0,813.0 L1264.0,815.1 L1267.9,817.0 L1271.9,819.0 L1275.9,820.9 L1279.8,822.8 L1283.8,824.6 L1287.7,826.3 L1291.7,828.1 L1295.7,829.8 L1299.7,831.5 L1303.7,833.2 L1307.7,834.9 L1311.7,836.6 L1315.7,838.4 L1319.7,840.1 L1323.7,841.9 L1327.7,843.6 L1331.8,845.5 L1335.9,847.5 L1339.8,849.5 L1343.8,851.4 L1347.8,853.2 L1351.7,855.1 L1355.7,856.8 L1359.6,858.5 L1363.6,860.1 L1367.5,861.7 L1371.5,863.2 L1375.4,864.7 L1379.3,866.1 L1383.2,867.3 L1387.2,868.5 L1391.2,869.7 L1395.2,870.9 L1399.2,872.2 L1403.2,873.4 L1407.3,874.7 L1411.3,876.0 L1415.3,877.3 L1419.3,878.7 L1423.3,880.0 L1427.3,881.4 L1431.4,882.8 L1435.4,884.3 L1439.4,885.7 L1443.4,887.1 L1447.4,888.6 L1451.4,890.0 L1455.3,891.4 L1459.3,892.7 L1463.3,894.1 L1467.3,895.4 L1471.3,896.7 L1475.3,898.0 L1479.3,899.3 L1483.3,900.7 L1487.3,902.1 L1491.3,903.4 L1495.3,904.8 L1499.3,906.1 L1503.3,907.5 L1507.3,908.8 L1511.4,910.2 L1515.4,911.7 L1519.4,913.2 L1523.2,914.5 L1526.8,915.4 L1530.6,916.0 L1534.5,916.5 L1538.4,916.9 L1542.2,917.2 L1546.1,917.4 L1550.0,917.4 L1554.0,917.4 L1554.0,925.6 L1550.0,925.6 L1545.9,925.6 L1541.8,925.4 L1537.6,925.1 L1533.5,924.7 L1529.4,924.2 L1525.2,923.5 L1520.8,922.3 L1516.6,920.9 L1512.6,919.4 L1508.6,917.9 L1504.7,916.6 L1500.7,915.2 L1496.7,913.9 L1492.7,912.6 L1488.7,911.2 L1484.7,909.9 L1480.7,908.5 L1476.7,907.1 L1472.7,905.8 L1468.7,904.5 L1464.7,903.2 L1460.7,901.9 L1456.7,900.5 L1452.7,899.1 L1448.6,897.7 L1444.6,896.3 L1440.6,894.9 L1436.6,893.4 L1432.6,892.0 L1428.6,890.5 L1424.7,889.1 L1420.7,887.8 L1416.7,886.4 L1412.7,885.1 L1408.7,883.8 L1404.7,882.5 L1400.8,881.2 L1396.8,880.0 L1392.8,878.8 L1388.8,877.6 L1384.8,876.4 L1380.8,875.2 L1376.7,874.0 L1372.6,872.5 L1368.5,871.0 L1364.5,869.5 L1360.4,867.9 L1356.4,866.2 L1352.3,864.5 L1348.3,862.7 L1344.2,860.9 L1340.2,859.0 L1336.2,857.0 L1332.1,855.1 L1328.2,853.1 L1324.3,851.4 L1320.3,849.7 L1316.3,847.9 L1312.3,846.2 L1308.3,844.5 L1304.3,842.8 L1300.3,841.1 L1296.3,839.4 L1292.3,837.7 L1288.3,836.0 L1284.3,834.3 L1280.2,832.5 L1276.2,830.7 L1272.1,828.8 L1268.1,826.8 L1264.1,824.9 L1260.0,822.9 L1256.0,820.9 L1252.0,818.8 L1248.0,816.7 L1243.9,814.6 L1239.9,812.5 L1235.9,810.3 L1231.9,808.2 L1227.9,806.0 L1223.8,803.8 L1219.8,801.5 L1215.8,799.3 L1211.8,797.0 L1207.8,794.7 L1203.8,792.4 L1199.7,790.1 L1195.7,787.7 L1191.7,785.4 L1187.7,783.0 L1183.7,780.6 L1179.6,778.1 L1175.6,775.7 L1171.6,773.2 L1167.6,770.7 L1163.6,768.2 L1159.5,765.6 L1155.5,763.0 L1151.5,760.4 L1147.5,757.7 L1143.4,755.0 L1139.4,752.3 L1135.4,749.5 L1131.4,746.7 L1127.3,743.9 L1123.3,741.0 L1119.3,738.2 L1115.3,735.3 L1111.3,732.3 L1107.2,729.4 L1103.2,726.4 L1099.2,723.4 L1095.2,720.4 L1091.2,717.4 L1087.2,714.4 L1083.2,711.4 L1079.2,708.3 L1075.1,705.3 L1071.1,702.2 L1067.1,699.1 L1063.1,695.9 L1059.1,692.7 L1055.0,689.6 L1051.0,686.3 L1047.0,683.1 L1043.0,679.8 L1039.0,676.5 L1035.0,673.2 L1030.9,669.9 L1026.9,666.5 L1022.9,663.1 L1018.9,659.6 L1014.8,656.1 L1010.8,652.6 L1006.8,649.0 L1002.8,645.5 L998.8,641.9 L994.8,638.3 L990.8,634.7 L986.8,631.1 L982.7,627.4 L978.7,623.8 L974.7,620.1 L970.7,616.4 L966.7,612.7 L962.7,609.0 L958.7,605.3 L954.7,601.6 L950.7,597.9 L946.7,594.2 L942.7,590.5 L938.7,586.9 L934.7,583.2 L930.7,579.5 L926.6,575.8 L922.6,572.0 L918.6,568.3 L914.6,564.5 L910.6,560.6 L906.5,556.8 L902.5,552.9 L898.5,549.0 L894.5,545.0 L890.5,541.0 L886.4,536.9 L882.4,532.8 L878.3,528.5 L874.2,524.0 L870.2,519.3 L866.1,514.4 L862.1,509.6 L858.2,504.9 L854.3,500.5 L850.3,496.3 L846.4,492.3 L842.4,488.3 L838.5,484.5 L834.5,480.7 L830.5,476.9 L826.5,473.1 L822.5,469.2 L818.4,465.3 L814.4,461.3 L810.3,457.2 L806.3,453.0 L802.2,448.5 L798.0,443.8 L794.0,438.7 L790.0,433.6 L786.1,428.8 L782.2,424.4 L778.3,420.2 L774.3,416.2 L770.4,412.3 L766.4,408.4 L762.4,404.6 L758.4,400.9 L754.4,397.1 L750.4,393.4 L746.4,389.6 L742.4,385.7 L738.4,381.8 L734.4,378.0 L730.4,374.1 L726.4,370.3 L722.4,366.5 L718.3,362.6 L714.3,358.7 L710.3,354.9 L706.3,350.9 L702.3,346.9 L698.2,342.9 L694.2,338.8 L690.2,334.6 L686.1,330.4 L682.1,326.1 L678.1,321.9 L674.1,317.6 L670.1,313.4 L666.2,309.3 L662.2,305.2 L658.2,301.3 L654.3,297.4 L650.3,293.5 L646.3,289.7 L642.3,285.9 L638.3,282.2 L634.4,278.5 L630.4,274.8 L626.4,271.2 L622.4,267.6 L618.5,264.1 L614.5,260.6 L610.5,257.2 L606.5,253.8 L602.5,250.5 L598.6,247.2 L594.6,243.9 L590.6,240.6 L586.6,237.4 L582.6,234.2 L578.6,231.0 L574.6,227.8 L570.6,224.6 L566.7,221.5 L562.7,218.4 L558.7,215.2 L554.7,212.1 L550.7,209.1 L546.7,206.0 L542.7,202.9 L538.7,199.9 L534.7,196.9 L530.8,194.0 L526.8,191.0 L522.8,188.1 L518.8,185.3 L514.9,182.5 L510.9,179.7 L506.9,176.9 L502.9,174.1 L498.9,171.4 L494.9,168.7 L490.9,166.0 L487.0,163.4 L483.0,160.8 L479.1,158.2 L475.1,155.8 L471.2,153.4 L467.2,151.0 L463.2,148.7 L459.3,146.5 L455.3,144.2 L451.3,142.0 L447.4,139.8 L443.4,137.7 L439.5,135.6 L435.5,133.6 L431.6,131.7 L427.6,129.8 L423.7,128.0 L419.8,126.3 L415.9,124.6 L411.9,123.0 L408.0,121.5 L404.0,120.0 L400.1,118.5 L396.1,117.1 L392.2,115.7 L388.3,114.4 L384.3,113.1 L380.4,111.9 L376.5,110.8 L372.5,109.7 L368.6,108.7 L364.6,107.6 Z" fill="#8c24a8" stroke="#8c24a8"/>
</g>
<g class="soft" fill="#000000">
<text transform="matrix(0.5850 0 0 0.4418 276.74 86.14)" font-family="'Liberation Sans', sans-serif" font-weight="normal" font-size="100" stroke="#000" stroke-width="2.30" stroke-linejoin="round">1</text>
<text transform="matrix(0.6227 0 0 0.4311 226.48 271.32)" font-family="'Liberation Sans', sans-serif" font-weight="normal" font-size="100" stroke="#000" stroke-width="2.30" stroke-linejoin="round">0.8</text>
<text transform="matrix(0.6227 0 0 0.4297 226.48 458.93)" font-family="'Liberation Sans', sans-serif" font-weight="normal" font-size="100" stroke="#000" stroke-width="2.30" stroke-linejoin="round">0.6</text>
<text transform="matrix(0.6210 0 0 0.4297 226.48 646.33)" font-family="'Liberation Sans', sans-serif" font-weight="normal" font-size="100" stroke="#000" stroke-width="2.30" stroke-linejoin="round">0.4</text>
<text transform="matrix(0.6274 0 0 0.4325 226.46 831.92)" font-family="'Liberation Sans', sans-serif" font-weight="normal" font-size="100" stroke="#000" stroke-width="2.30" stroke-linejoin="round">0.2</text>
<text transform="matrix(0.5944 0 0 0.4297 276.56 1020.33)" font-family="'Liberation Sans', sans-serif" font-weight="normal" font-size="100" stroke="#000" stroke-width="2.30" stroke-linejoin="round">0</text>
<text transform="matrix(0.5845 0 0 0.4325 356.98 1086.52)" font-family="'Liberation Sans', sans-serif" font-weight="normal" font-size="100" stroke="#000" stroke-width="2.30" stroke-linejoin="round">0</text>
<text transform="matrix(0.5964 0 0 0.4325 712.35 1086.52)" font-family="'Liberation Sans', sans-serif" font-weight="normal" font-size="100" stroke="#000" stroke-width="2.30" stroke-linejoin="round">200</text>
<text transform="matrix(0.5946 0 0 0.4325 1102.14 1086.52)" font-family="'Liberation Sans', sans-serif" font-weight="normal" font-size="100" stroke="#000" stroke-width="2.30" stroke-linejoin="round">400</text>
<text transform="matrix(0.5933 0 0 0.4325 1492.07 1086.52)" font-family="'Liberation Sans', sans-serif" font-weight="normal" font-size="100" stroke="#000" stroke-width="2.30" stroke-linejoin="round">600</text>
<text transform="matrix(0.84 0 0 0.69 0 1183.4)" x="988.5 1038.5 1059.0 1102.2 1165.8 1260.3" y="0" font-family="'Liberation Sans', sans-serif" font-weight="bold" font-size="100">z (µm)</text>
<text transform="matrix(0 -0.5579 0.8687 0 107.42 595.31)" font-family="'Liberation Sans', sans-serif" font-weight="bold" font-size="100" stroke="#000" stroke-width="0.60" stroke-linejoin="round">C</text>
<text transform="matrix(0 -0.3597 0.5694 0 128.90 554.23)" font-family="'Liberation Sans', sans-serif" font-weight="bold" font-size="100" stroke="#000" stroke-width="3.00" stroke-linejoin="round">EFF</text>
<text transform="matrix(0.5191 0 0 0.4179 518.73 177.73)" font-family="'Liberation Sans', sans-serif" font-weight="normal" font-size="100" stroke="#000" stroke-width="1.40" stroke-linejoin="round">4</text>
<text transform="matrix(0.5124 0 0 0.4130 491.91 234.00)" font-family="'Liberation Sans', sans-serif" font-weight="normal" font-size="100" stroke="#000" stroke-width="1.40" stroke-linejoin="round">3</text>
<text transform="matrix(0.5105 0 0 0.4286 458.90 293.00)" font-family="'Liberation Sans', sans-serif" font-weight="normal" font-size="100" stroke="#000" stroke-width="1.40" stroke-linejoin="round">2</text>
<text transform="matrix(0.5315 0 0 0.4403 411.22 349.39)" font-family="'Liberation Sans', sans-serif" font-weight="normal" font-size="100" stroke="#000" stroke-width="1.40" stroke-linejoin="round">1</text>
<text transform="matrix(0.6250 0 0 0.5184 1455.06 474.93)" font-family="'Liberation Sans', sans-serif" font-weight="normal" font-size="100" stroke="#000" stroke-width="1.80" stroke-linejoin="round">1</text>
<text transform="matrix(0.6339 0 0 0.5070 1438.40 543.24)" font-family="'Liberation Sans', sans-serif" font-weight="normal" font-size="100" stroke="#000" stroke-width="1.80" stroke-linejoin="round">2</text>
<text transform="matrix(0.6189 0 0 0.4835 1333.68 678.58)" font-family="'Liberation Sans', sans-serif" font-weight="normal" font-size="100" stroke="#000" stroke-width="1.80" stroke-linejoin="round">3</text>
<text transform="matrix(0.6231 0 0 0.5258 1342.21 885.55)" font-family="'Liberation Sans', sans-serif" font-weight="normal" font-size="100" stroke="#000" stroke-width="1.80" stroke-linejoin="round">4</text>
</g>
</svg>
</body>
</html>
